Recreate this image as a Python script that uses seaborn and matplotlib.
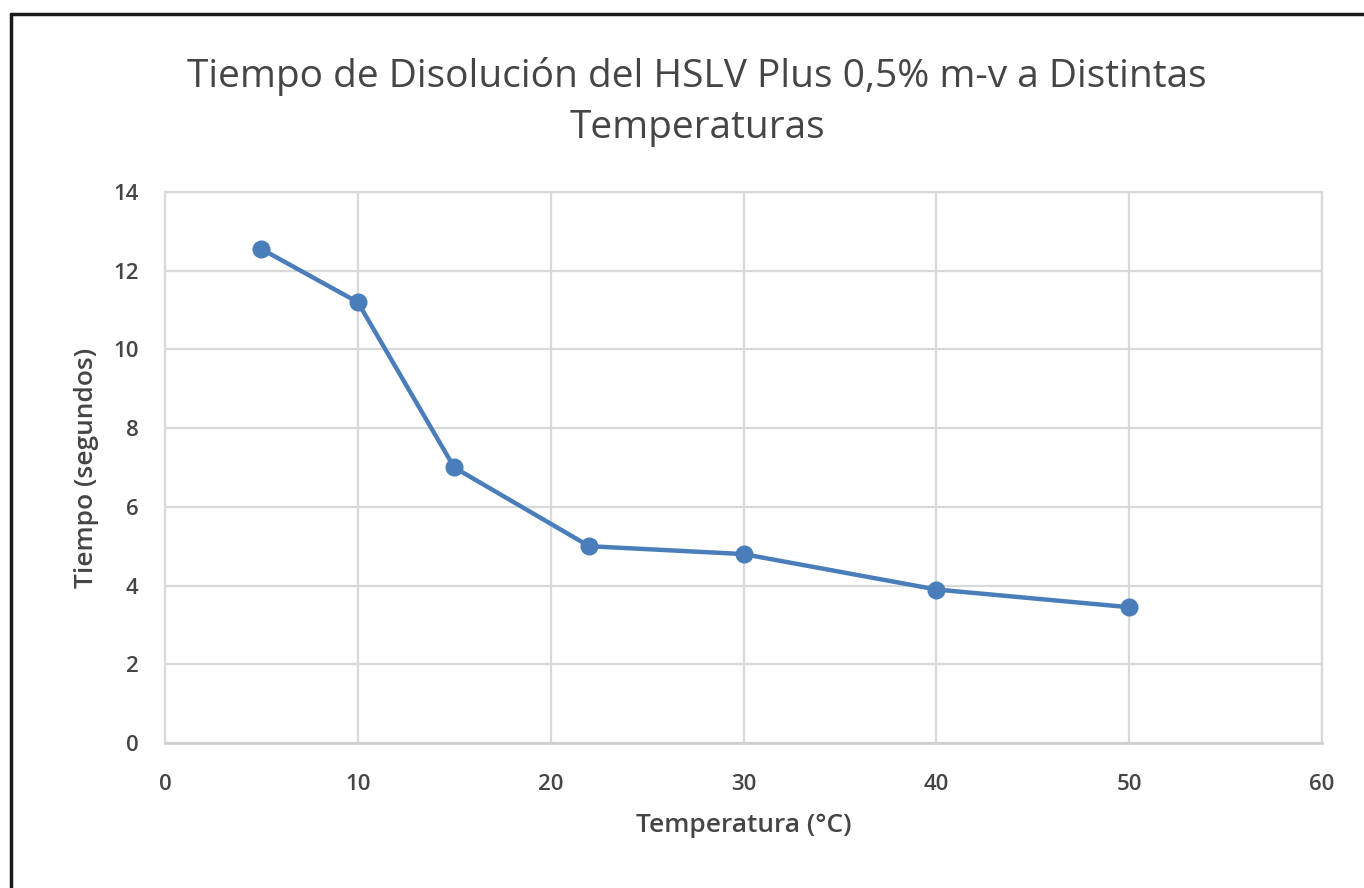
import matplotlib
matplotlib.use("Agg")
import matplotlib.pyplot as plt
from matplotlib.lines import Line2D
import seaborn as sns
import pandas as pd

temperatura = [5, 10, 15, 22, 30, 40, 50]
tiempo = [12.55, 11.2, 7.0, 5.0, 4.8, 3.9, 3.45]
x_ticks = [0, 10, 20, 30, 40, 50, 60]
y_ticks = [0, 2, 4, 6, 8, 10, 12, 14]
titulo = "Tiempo de Disolución del HSLV Plus 0,5% m-v a Distintas\nTemperaturas"
x_label = "Temperatura (°C)"
y_label = "Tiempo (segundos)"

sns.set_theme(style="white")
plt.rcParams['font.family'] = ['Open Sans', 'DejaVu Sans']

df = pd.DataFrame({"Temperatura": temperatura, "Tiempo": tiempo})

fig = plt.figure(figsize=(13.64, 8.88), dpi=100)
ax = fig.add_axes([165/1364, 1-743/888, (1322-165)/1364, (743-192)/888])

text_color = "#454545"
grid_color = "#d9d9d9"
line_color = "#4a7ebb"

sns.lineplot(data=df, x="Temperatura", y="Tiempo", ax=ax, color=line_color,
             linewidth=3.2, marker="o", markersize=13, markeredgewidth=0,
             zorder=3)

ax.set_xlim(0, 60)
ax.set_ylim(0, 14)
ax.set_xticks(x_ticks)
ax.set_yticks(y_ticks)
ax.set_xticklabels([str(v) for v in x_ticks])
ax.set_yticklabels([str(v) for v in y_ticks])
ax.grid(True, color=grid_color, linewidth=1.6)
ax.set_axisbelow(True)
for s in ax.spines.values():
    s.set_color(grid_color)
    s.set_linewidth(1.6)
ax.spines['bottom'].set_color("#cfcfcf")
ax.spines['bottom'].set_linewidth(2)
ax.tick_params(axis='both', length=0, labelsize=16, labelcolor=text_color)
ax.tick_params(axis='x', pad=22)
ax.tick_params(axis='y', pad=19)
for lab in ax.get_xticklabels() + ax.get_yticklabels():
    lab.set_fontweight('semibold')

ax.set_xlabel(x_label, fontsize=19, color=text_color, labelpad=13, fontweight='semibold')
ax.set_ylabel(y_label, fontsize=19, color=text_color, labelpad=10, fontweight='semibold')

fig.text(697/1364, 1-102/888, titulo, ha='center', va='center', fontsize=28,
         color=text_color, linespacing=1.45, fontweight='medium')

# outer frame (top and left edges visible)
fig.add_artist(Line2D([11/1364, 11/1364], [0, 1-14/888], transform=fig.transFigure,
                      color="#1a1a1a", linewidth=2.5))
fig.add_artist(Line2D([11/1364, 1], [1-14/888, 1-14/888], transform=fig.transFigure,
                      color="#1a1a1a", linewidth=2.5))

fig.savefig("out.png", dpi=100, facecolor="white")
